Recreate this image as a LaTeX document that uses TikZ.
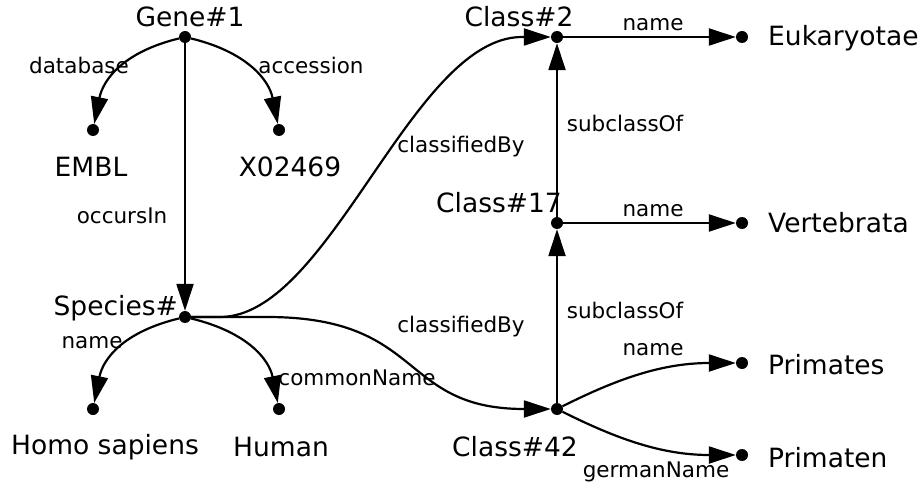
\documentclass[tikz,border=0pt]{standalone}
\usepackage{fontspec}
\setmainfont{DejaVu Sans}
\usetikzlibrary{arrows.meta}
\begin{document}
\begin{tikzpicture}[x=1pt,y=-1pt,
  dot/.style={circle,fill=black,inner sep=0pt,minimum size=12pt},
  rel/.style={line width=2.2pt,-{Triangle[length=27pt,width=17pt]}},
  lit/.style={font=\fontsize{26.5}{30}\selectfont,inner sep=0pt},
  elab/.style={font=\fontsize{21.5}{25}\selectfont,inner sep=0pt}]
\path[use as bounding box] (0,0) rectangle (923,489);
% dots
\node[dot] (g)   at (185,37) {};
\node[dot] (em)  at (93,130) {};
\node[dot] (x0)  at (279,130) {};
\node[dot] (sp)  at (185,317) {};
\node[dot] (hs)  at (93,409) {};
\node[dot] (hu)  at (279,409) {};
\node[dot] (c2)  at (557,37) {};
\node[dot] (c17) at (557,223) {};
\node[dot] (c42) at (557,409) {};
\node[dot] (eu)  at (742,37) {};
\node[dot] (ve)  at (742,223) {};
\node[dot] (pa)  at (742,363) {};
\node[dot] (pn)  at (742,455) {};
\coordinate (k1) at (220,317);
\coordinate (k2) at (522,37);
\coordinate (k3) at (267,317);
% node texts
\node[lit] (tg)   at (190,17) {Gene\#1};
\node[lit] (tem)  at (91,167) {EMBL};
\node[lit] (tx0)  at (290,167) {X02469};
\node[lit,anchor=east] (tsp) at (178,308) {Species\#};
\node[lit] (ths)  at (105,447) {Homo sapiens};
\node[lit] (thu)  at (281,447) {Human};
\node[lit] (tc2)  at (519,17) {Class\#2};
\node[lit] (tc17) at (499,203) {Class\#17};
\node[lit] (tc42) at (515,447) {Class\#42};
\node[lit,anchor=west] (teu) at (768,38) {Eukaryotae};
\node[lit,anchor=west] (tve) at (768,223) {Vertebrata};
\node[lit,anchor=west] (tpa) at (768,365) {Primates};
\node[lit,anchor=west] (tpn) at (768,458) {Primaten};
% edges
\draw[rel] (g) .. controls +(-62,15) and +(10,-50) .. (em);
\draw[rel] (g) .. controls +(62,15) and +(-10,-50) .. (x0);
\draw[rel] (g) -- (sp);
\draw[rel] (sp) .. controls +(-62,15) and +(10,-50) .. (hs);
\draw[rel] (sp) .. controls +(62,15) and +(-10,-50) .. (hu);
\draw[rel] (sp) -- (k1) .. controls +(110,0) and +(-110,0) .. (k2) -- (c2);
\draw[rel] (sp) -- (k3) .. controls +(159,0) and +(-159,0) .. (c42);
\draw[rel] (c42) -- (c17);
\draw[rel] (c17) -- (c2);
\draw[rel] (c2) -- (eu);
\draw[rel] (c17) -- (ve);
\draw[rel] (c42) .. controls +(60,-30) and +(-80,0) .. (pa);
\draw[rel] (c42) .. controls +(60,30) and +(-80,0) .. (pn);
% edge labels
\node[elab] (l1)  at (79,65) {database};
\node[elab] (l2)  at (311,65) {accession};
\node[elab] (l3)  at (122,216) {occursIn};
\node[elab] (l4)  at (461,147) {classifiedBy};
\node[elab] (l5)  at (461,327) {classifiedBy};
\node[elab] (l6)  at (92,343) {name};
\node[elab] (l7)  at (357,378) {commonName};
\node[elab] (l8)  at (653,25) {name};
\node[elab] (l9)  at (625,123) {subclassOf};
\node[elab] (l10) at (653,211) {name};
\node[elab] (l11) at (625,310) {subclassOf};
\node[elab] (l12) at (653,350) {name};
\node[elab] (l13) at (656,472) {germanName};
\end{tikzpicture}
\end{document}
